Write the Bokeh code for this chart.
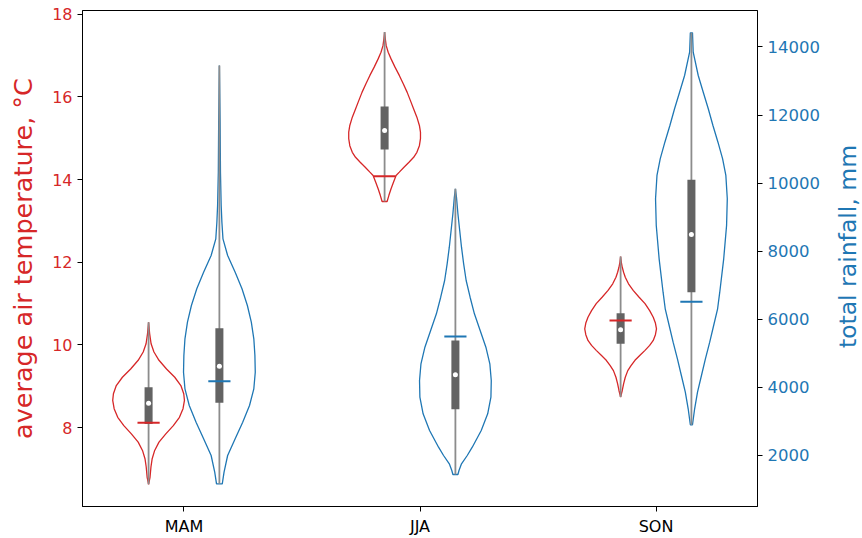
import math
import numpy as np
from bokeh.plotting import figure
from bokeh.layouts import row
from bokeh.models import Range1d, LinearAxis, FixedTicker, Label
from bokeh.embed import file_html
from bokeh.resources import INLINE

seasons = ["MAM", "JJA", "SON"]

# ---- temperature (°C) violin profiles: value grid and relative density ----
temp_mam_y = [10.55, 10.27, 10.03, 9.83, 9.63, 9.42, 9.22, 9.02, 8.82, 8.66, 8.46, 8.25,
              8.05, 7.85, 7.65, 7.45, 7.25, 7.05, 6.80, 6.63]
temp_mam_d = [0.0, 0.03, 0.07, 0.15, 0.29, 0.50, 0.73, 0.90, 0.98, 1.0, 0.96, 0.86,
              0.69, 0.48, 0.29, 0.17, 0.10, 0.066, 0.04, 0.0]
temp_jja_y = [17.57, 17.40, 17.24, 17.08, 16.92, 16.72, 16.52, 16.32, 16.11, 15.91, 15.71,
              15.51, 15.31, 15.15, 14.99, 14.82, 14.66, 14.54, 14.42, 14.30, 14.18, 14.10,
              13.94, 13.78, 13.62, 13.47]
temp_jja_d = [0.0, 0.02, 0.045, 0.10, 0.18, 0.29, 0.41, 0.52, 0.63, 0.72, 0.81, 0.90, 0.97,
              1.0, 1.0, 0.97, 0.90, 0.81, 0.68, 0.54, 0.41, 0.32, 0.25, 0.18, 0.12, 0.07]
temp_son_y = [12.14, 12.00, 11.88, 11.76, 11.64, 11.48, 11.32, 11.16, 11.00, 10.83, 10.67,
              10.53, 10.39, 10.25, 10.11, 9.99, 9.87, 9.75, 9.63, 9.50, 9.38, 9.22, 9.06,
              8.90, 8.74]
temp_son_d = [0.0, 0.02, 0.046, 0.083, 0.13, 0.22, 0.35, 0.51, 0.68, 0.81, 0.91, 0.97, 1.0,
              0.97, 0.91, 0.81, 0.68, 0.54, 0.40, 0.29, 0.20, 0.13, 0.083, 0.046, 0.0]
temp_q1 = [8.09, 14.73, 10.03]
temp_median = [8.59, 15.19, 10.37]
temp_q3 = [8.98, 15.77, 10.77]
temp_mark = [8.12, 14.08, 10.59]

# ---- rainfall (mm) violin profiles ----
rain_mam_y = [13454, 11789, 10321, 9343, 8852, 8364, 7874, 7384, 6896, 6406, 5915, 5427,
              4937, 4447, 3959, 3469, 2978, 2490, 2000, 1510, 1169]
rain_mam_d = [0.0, 0.02, 0.03, 0.05, 0.07, 0.10, 0.23, 0.44, 0.63, 0.78, 0.89, 0.96, 0.99,
              1.0, 0.96, 0.84, 0.65, 0.44, 0.23, 0.13, 0.08]
rain_jja_y = [9833, 9586, 9099, 8608, 8118, 7630, 7140, 6649, 6162, 5671, 5181, 4693, 4203,
              3712, 3225, 2734, 2244, 2000, 1756, 1559, 1442]
rain_jja_d = [0.0, 0.03, 0.07, 0.12, 0.17, 0.23, 0.30, 0.41, 0.53, 0.69, 0.85, 0.96, 1.0,
              0.99, 0.90, 0.72, 0.47, 0.33, 0.17, 0.10, 0.07]
rain_son_y = [14415, 13845, 13161, 12670, 12183, 11692, 11202, 10714, 10224, 9539, 8755,
              7777, 6796, 6309, 5818, 5328, 4840, 4350, 3859, 3372, 2902]
rain_son_d = [0.03, 0.05, 0.19, 0.33, 0.47, 0.60, 0.74, 0.87, 0.96, 1.0, 0.98, 0.90, 0.79,
              0.73, 0.62, 0.51, 0.39, 0.28, 0.17, 0.09, 0.03]
rain_q1 = [3548, 3360, 6796]
rain_median = [4623, 4370, 8491]
rain_q3 = [5739, 5378, 10097]
rain_mark = [4182, 5495, 6514]

temp_ticks = [8, 10, 12, 14, 16, 18]
rain_ticks = [2000, 4000, 6000, 8000, 10000, 12000, 14000]

RED = "#d62728"
BLUE = "#1f77b4"
FONT = "DejaVu Sans"
HALF = 0.152
OFFSET = 0.15

p = figure(width=822, height=538, x_range=Range1d(-0.43, 2.43),
           y_range=Range1d(6.094, 18.09), output_backend="svg", toolbar_location=None,
           min_border_left=82, min_border_right=65, min_border_top=10,
           min_border_bottom=32)
p.extra_y_ranges = {"rain": Range1d(502, 15070)}
p.grid.visible = False
p.outline_line_color = "black"
p.outline_line_width = 1
p.outline_line_alpha = 1.0
p.background_fill_color = "white"
p.border_fill_color = "white"


def draw_violin(center, ys, ds, q1, med, q3, mark, color, rng):
    ys = np.asarray(ys, dtype=float)
    ds = np.asarray(ds, dtype=float)
    left = center - HALF * ds
    right = center + HALF * ds
    xs = np.concatenate([left, right[::-1]])
    yy = np.concatenate([ys, ys[::-1]])
    kw = {} if rng is None else {"y_range_name": rng}
    p.patch(xs, yy, fill_color=None, line_color=color, line_width=1.3, **kw)
    p.segment(x0=[center], y0=[ys.min()], x1=[center], y1=[ys.max()],
              line_color="#8c8c8c", line_width=1.8, **kw)
    p.vbar(x=[center], width=0.034, top=[q3], bottom=[q1], fill_color="#636363",
           line_color=None, **kw)
    p.scatter([center], [med], size=5, fill_color="white", line_color=None, **kw)
    p.segment(x0=[center - 0.047], y0=[mark], x1=[center + 0.047], y1=[mark],
              line_color=color, line_width=2, **kw)


temp_profiles = [(temp_mam_y, temp_mam_d), (temp_jja_y, temp_jja_d), (temp_son_y, temp_son_d)]
rain_profiles = [(rain_mam_y, rain_mam_d), (rain_jja_y, rain_jja_d), (rain_son_y, rain_son_d)]

for i in range(len(seasons)):
    ty, td = temp_profiles[i]
    draw_violin(i - OFFSET, ty, td, temp_q1[i], temp_median[i], temp_q3[i], temp_mark[i], RED, None)
    ry, rd = rain_profiles[i]
    draw_violin(i + OFFSET, ry, rd, rain_q1[i], rain_median[i], rain_q3[i], rain_mark[i], BLUE, "rain")

# x axis
xa = p.xaxis[0]
xa.ticker = FixedTicker(ticks=list(range(len(seasons))))
xa.major_label_overrides = {i: s for i, s in enumerate(seasons)}
xa.minor_tick_line_color = None
xa.major_tick_out = 5
xa.major_tick_in = 0
xa.axis_line_color = "black"
xa.major_label_text_font = FONT
xa.major_label_text_font_size = "16px"
xa.major_label_text_color = "black"

# left axis (temperature)
ya = p.yaxis[0]
ya.ticker = FixedTicker(ticks=temp_ticks)
ya.minor_tick_line_color = None
ya.major_tick_out = 5
ya.major_tick_in = 0
ya.axis_line_color = "black"
ya.major_label_text_font = FONT
ya.major_label_text_font_size = "16px"
ya.major_label_text_color = RED
ya.axis_label = "average air temperature, °C"
ya.axis_label_text_font = FONT
ya.axis_label_text_font_size = "25.5px"
ya.axis_label_text_font_style = "normal"
ya.axis_label_text_color = RED
ya.axis_label_standoff = 11

# right axis (rainfall)
ra = LinearAxis(y_range_name="rain", ticker=FixedTicker(ticks=rain_ticks))
ra.minor_tick_line_color = None
ra.major_tick_out = 5
ra.major_tick_in = 0
ra.axis_line_color = "black"
ra.major_label_text_font = FONT
ra.major_label_text_font_size = "16.5px"
ra.major_label_text_color = BLUE
p.add_layout(ra, "right")

# narrow strip holding the right-axis title, reading bottom to top
strip = figure(width=40, height=538, x_range=Range1d(0, 40), y_range=Range1d(0, 538),
               x_axis_type=None, y_axis_type=None, output_backend="svg",
               toolbar_location=None, min_border=0)
strip.outline_line_color = None
strip.grid.visible = False
strip.background_fill_color = "white"
strip.border_fill_color = "white"
strip.add_layout(Label(x=25, y=282, text="total rainfall, mm", angle=math.pi / 2,
                       text_align="center", text_baseline="middle", text_font=FONT,
                       text_font_size="23.5px", text_color=BLUE))

layout = row(p, strip, spacing=0)
open("out.html", "w").write(file_html(layout, INLINE))
